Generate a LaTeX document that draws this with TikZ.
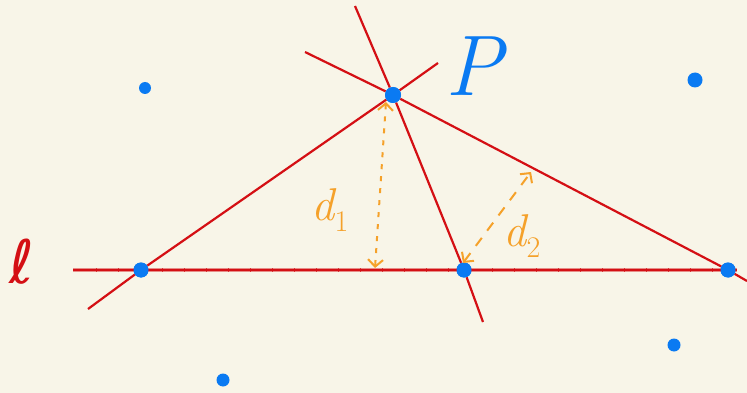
\documentclass[tikz,border=0pt]{standalone}
\usepackage{fontspec}
\newfontfamily\symfont{DejaVu Sans}
\usepackage{tikz}
\usetikzlibrary{arrows.meta}

\definecolor{paper}{HTML}{F8F5E8}
\definecolor{penred}{HTML}{D40F14}
\definecolor{penblue}{HTML}{0A7AF2}
\definecolor{penorange}{HTML}{F5A12A}

\newcommand{\dlabel}[1]{\itshape d\raisebox{-0.22em}{\fontsize{30}{30}\selectfont\upshape #1}}

\begin{document}
\begin{tikzpicture}[x=1pt, y=-1pt,
      pt/.style={circle, fill=penblue, inner sep=0pt, minimum size=#1},
      pt/.default=15pt,
      redline/.style={penred, line width=2.2pt},
      dist/.style={penorange, line width=2pt, {Straight Barb[length=7pt,width=15pt]}-{Straight Barb[length=7pt,width=15pt]}},
      lbl/.style={inner sep=0pt}
  ]
    \fill[paper] (0,0) rectangle (747,393);
    \useasboundingbox (0,0) rectangle (747,393);
    % points
    \node[pt] (A) at (141,270) {};
    \node[pt] (B) at (464,270) {};
    \node[pt] (C) at (728,270) {};
    \node[pt=16pt] (P) at (393,95) {};
    \node[pt=12pt] (Q1) at (145,88) {};
    \node[pt] (Q2) at (695,80) {};
    \node[pt=13pt] (Q3) at (674,345) {};
    \node[pt=13pt] (Q4) at (223,380) {};
    % line ends
    \coordinate (l1) at (73,270);
    \coordinate (l2) at (737,270);
    \coordinate (a1) at (88,309);
    \coordinate (a2) at (438,63);
    \coordinate (b1) at (355,6);
    \coordinate (b2) at (483,322);
    \coordinate (c1) at (305,52);
    \coordinate (c2) at (747,281);
    % the line l
    \draw[redline, line width=3.2pt, opacity=0.45] (l1) -- (l2);
    \draw[redline] (l1) -- (l2);
    \foreach \x in {96,118,...,735}
      \draw[penred, line width=1pt, opacity=0.7] (\x,268) -- (\x,272);
    % lines through P
    \draw[redline] (a1) -- (A) -- (P) -- (a2);
    \draw[redline] (b1) -- (P) -- (B) -- (b2);
    \draw[redline] (c1) -- (P) -- (C) -- (c2);
    \node[pt] at (A) {};
    \node[pt] at (B) {};
    \node[pt] at (C) {};
    \node[pt=16pt] at (P) {};
    % distances
    \coordinate (d1top) at (386,102);
    \coordinate (d1bot) at (375,268);
    \coordinate (d2bot) at (463,263);
    \coordinate (d2top) at (531,172);
    \draw[dist, dash pattern=on 5pt off 7pt] (d1top) -- (d1bot);
    \draw[dist, dash pattern=on 10pt off 9pt] (d2bot) -- (d2top);
    % labels
    \node[lbl, penred, font=\symfont\fontsize{60}{60}\selectfont] (ell) at (22,262) {ℓ};
    \node[lbl, penblue, font=\fontsize{86}{86}\selectfont\itshape] (plbl) at (474,66) {P};
    \node[lbl, penorange, font=\fontsize{46}{46}\selectfont] (d1) at (330,210) {\dlabel{1}};
    \node[lbl, penorange, font=\fontsize{46}{46}\selectfont] (d2) at (522,236) {\dlabel{2}};
\end{tikzpicture}
\end{document}
